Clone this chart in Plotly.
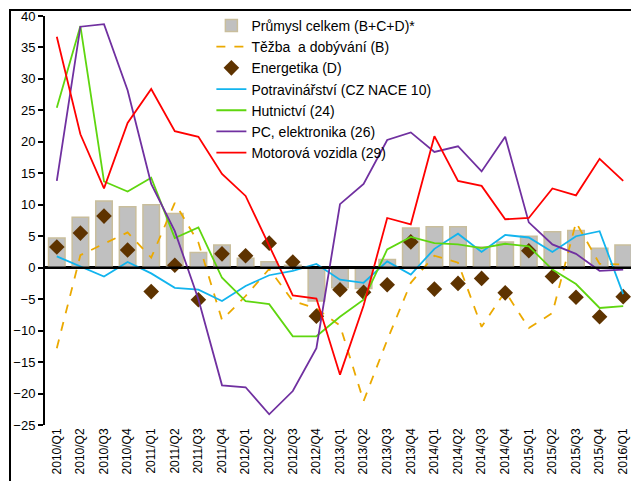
import plotly.graph_objects as go

# quarters 2010/Q1 .. 2016/Q1
quarters = [f"{y}/Q{q}" for y in range(2010, 2016) for q in range(1, 5)] + ["2016/Q1"]

prumysl = [4.7, 8.0, 10.6, 9.7, 10.0, 8.6, 2.4, 3.6, 1.5, 0.95, 0.4, -5.3,
           -3.2, -3.3, 1.3, 6.3, 6.5, 6.5, 3.3, 4.1, 5.0, 5.7, 5.9, 3.1, 3.6]
tezba = [-12.8, 2.0, 3.8, 5.6, 1.6, 10.3, 4.0, -8.3, -4.5, -0.2, -5.3, -6.5,
         -9.2, -21.2, -11.5, -2.4, 1.9, 0.8, -9.4, -3.8, -9.6, -7.2, 7.2, 0.6, 0.5]
energetika = [3.3, 5.5, 8.2, 2.8, -3.8, 0.4, -5.1, 2.2, 1.9, 3.9, 0.9, -7.7,
              -3.5, -3.9, -2.7, 4.1, -3.4, -2.5, -1.7, -4.0, 2.7, -1.4, -4.7, -7.8, -4.6]
potraviny = [1.8, 0.2, -1.4, 0.9, -0.9, -3.2, -3.5, -5.3, -2.9, -1.2, -0.5, 0.6,
             -1.9, -2.4, 1.0, -1.1, 3.0, 5.4, 2.5, 5.2, 4.8, 2.5, 5.0, 5.8, -4.2]
hutnictvi = [25.4, 38.4, 13.7, 12.1, 14.3, 4.7, 6.4, -1.6, -5.3, -5.8, -10.9, -10.9,
             -7.8, -5.1, 2.9, 4.9, 3.9, 3.7, 3.1, 3.8, 3.4, -0.3, -2.6, -6.4, -6.1]
pc_elektronika = [13.8, 38.3, 38.7, 28.2, 13.3, 5.8, -5.0, -18.7, -19.0, -23.3, -19.6, -12.8,
                  10.1, 13.3, 20.3, 21.5, 18.4, 19.3, 15.3, 20.8, 7.2, 3.7, 2.2, -0.5, -0.3]
motorova = [36.7, 21.2, 12.6, 23.0, 28.4, 21.7, 20.8, 14.9, 11.4, 3.4, -4.4, -4.9,
            -17.0, -6.0, 7.9, 6.9, 20.9, 13.8, 13.0, 7.7, 7.9, 12.6, 11.5, 17.3, 13.8]

FONT = "Arial, Liberation Sans, sans-serif"

fig = go.Figure()
fig.add_trace(go.Bar(x=quarters, y=prumysl, name="Průmysl celkem (B+C+D)*",
                     marker=dict(color="#C0C0C0", line=dict(color="#C9BE9C", width=1.5))))
fig.add_trace(go.Scatter(x=quarters, y=tezba, name="Těžba  a dobývání (B)", mode="lines",
                         line=dict(color="#EBA900", width=1.8, dash="dash")))
fig.add_trace(go.Scatter(x=quarters, y=energetika, name="Energetika (D)", mode="markers",
                         marker=dict(symbol="diamond", size=12, color="#5E3300")))
fig.add_trace(go.Scatter(x=quarters, y=potraviny, name="Potravinářství (CZ NACE 10)", mode="lines",
                         line=dict(color="#12B4EE", width=1.8)))
fig.add_trace(go.Scatter(x=quarters, y=hutnictvi, name="Hutnictví (24)", mode="lines",
                         line=dict(color="#5FD60F", width=1.8)))
fig.add_trace(go.Scatter(x=quarters, y=pc_elektronika, name="PC, elektronika (26)", mode="lines",
                         line=dict(color="#7030A0", width=1.8)))
fig.add_trace(go.Scatter(x=quarters, y=motorova, name="Motorová vozidla (29)", mode="lines",
                         line=dict(color="#FF0000", width=1.8)))

# the page adds an 8 px body margin, so the margins below are shifted by that
fig.update_layout(
    width=639, height=481, autosize=False,
    margin=dict(l=37, r=12, t=8, b=64, autoexpand=False),
    paper_bgcolor="white", plot_bgcolor="white",
    font=dict(family=FONT, color="black", size=13),
    bargap=0.3,
    showlegend=True,
    legend=dict(x=0.282, y=1.015, xanchor="left", yanchor="top",
                bgcolor="rgba(0,0,0,0)", font=dict(size=14, family=FONT)),
    xaxis=dict(type="category", range=[-0.5, len(quarters) - 0.5], autorange=False,
               tickangle=-90, showline=False, ticks="",
               showgrid=False, zeroline=False, tickfont=dict(size=12),
               automargin=False),
    yaxis=dict(range=[-25, 40], autorange=False, dtick=5, showgrid=False, showline=True,
               linecolor="black", linewidth=2, ticks="outside", ticklen=5,
               tickwidth=2, tickcolor="black", zeroline=True,
               zerolinecolor="black", zerolinewidth=2.5, tickfont=dict(size=13),
               automargin=False),
)

# zero line over the bars
fig.add_hline(y=0, line_color="black", line_width=2.5, layer="above")

# frame of the original picture: an empty bordered box whose right and
# bottom edges fall outside the figure, leaving only the left and top edges
fig.add_annotation(text=" ", xref="paper", yref="paper", x=-0.061, y=1.017,
                   xanchor="left", yanchor="top", showarrow=False,
                   width=720, height=560, borderpad=0, borderwidth=2,
                   bordercolor="black", bgcolor="rgba(0,0,0,0)")

fig.write_html("out.html")
